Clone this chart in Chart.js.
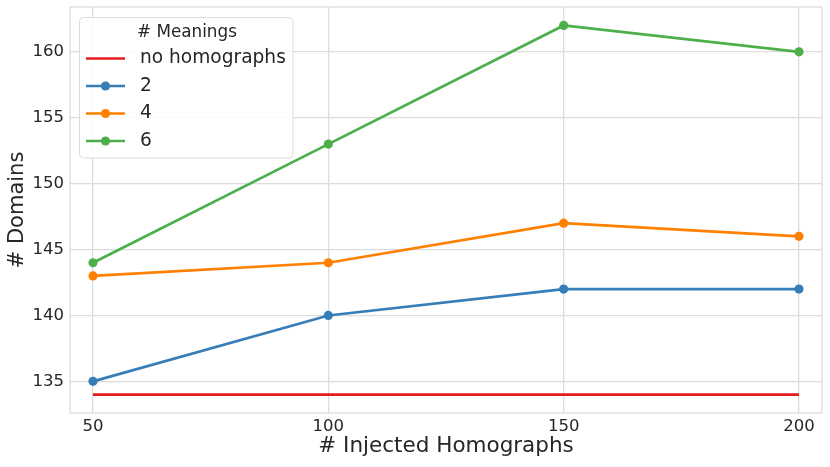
<!DOCTYPE html>
<html>
<head>
<meta charset="utf-8">
<script src="https://cdn.jsdelivr.net/npm/chart.js@4/dist/chart.umd.min.js"></script>
<style>
html,body{margin:0;padding:0;background:#fff;}
#wrap{width:830px;height:467px;}
</style>
</head>
<body>
<div id="wrap"><canvas id="c" width="830" height="467"></canvas></div>
<script>
const injected = [50, 100, 150, 200];
const noHomographs = [134, 134, 134, 134];
const meanings2 = [135, 140, 142, 142];
const meanings4 = [143, 144, 147, 146];
const meanings6 = [144, 153, 162, 160];
const xTicks = [50, 100, 150, 200];
const yTicks = [135, 140, 145, 150, 155, 160];
const legendTitle = '# Meanings';
const xTitle = '# Injected Homographs';
const yTitle = '# Domains';

const FONT = '"DejaVu Sans", sans-serif';
const TEXT = '#262626';
const GRID = '#dcdcdc';

const toPts = arr => injected.map((x, i) => ({x: x, y: arr[i]}));

function ds(label, arr, color, markers) {
  return {
    label: label,
    data: toPts(arr),
    borderColor: color,
    backgroundColor: color,
    borderWidth: 2.7,
    pointRadius: markers ? 4.6 : 0,
    pointHoverRadius: markers ? 4.6 : 0,
    pointBorderWidth: 0,
    pointBackgroundColor: color,
    tension: 0,
    fill: false,
    _markers: markers
  };
}

const datasets = [
  ds('no homographs', noHomographs, '#e41a1c', false),
  ds('2', meanings2, '#377eb8', true),
  ds('4', meanings4, '#ff7f00', true),
  ds('6', meanings6, '#4daf4a', true)
];

const framePlugin = {
  id: 'frame',
  beforeDatasetsDraw(chart) {
    const {ctx, chartArea: a} = chart;
    ctx.save();
    ctx.strokeStyle = GRID;
    ctx.lineWidth = 1.3;
    ctx.strokeRect(a.left, a.top, a.right - a.left, a.bottom - a.top);
    ctx.restore();
  }
};

const legendPlugin = {
  id: 'customLegend',
  afterDraw(chart) {
    const ctx = chart.ctx;
    const x0 = 79.5, y0 = 17.5, w = 213.5, h = 140.5, r = 4;
    ctx.save();
    ctx.beginPath();
    ctx.moveTo(x0 + r, y0);
    ctx.lineTo(x0 + w - r, y0);
    ctx.quadraticCurveTo(x0 + w, y0, x0 + w, y0 + r);
    ctx.lineTo(x0 + w, y0 + h - r);
    ctx.quadraticCurveTo(x0 + w, y0 + h, x0 + w - r, y0 + h);
    ctx.lineTo(x0 + r, y0 + h);
    ctx.quadraticCurveTo(x0, y0 + h, x0, y0 + h - r);
    ctx.lineTo(x0, y0 + r);
    ctx.quadraticCurveTo(x0, y0, x0 + r, y0);
    ctx.closePath();
    ctx.fillStyle = 'rgba(255,255,255,0.85)';
    ctx.fill();
    ctx.strokeStyle = '#dcdcdc';
    ctx.lineWidth = 1;
    ctx.stroke();

    ctx.fillStyle = TEXT;
    ctx.textBaseline = 'middle';
    ctx.textAlign = 'center';
    ctx.font = '16.8px ' + FONT;
    ctx.fillText(legendTitle, 187, 33);

    const rows = [58.5, 86, 113.5, 141];
    chart.data.datasets.forEach((d, i) => {
      const y = rows[i];
      ctx.strokeStyle = d.borderColor;
      ctx.lineWidth = 2.7;
      ctx.beginPath();
      ctx.moveTo(86, y);
      ctx.lineTo(125, y);
      ctx.stroke();
      if (d._markers) {
        ctx.fillStyle = d.borderColor;
        ctx.beginPath();
        ctx.arc(105.5, y, 4.6, 0, Math.PI * 2);
        ctx.fill();
      }
      ctx.fillStyle = TEXT;
      ctx.textAlign = 'left';
      ctx.font = '18.6px ' + FONT;
      ctx.fillText(d.label, 140, y);
    });
    ctx.restore();
  }
};

new Chart(document.getElementById('c'), {
  type: 'line',
  data: {datasets: datasets},
  options: {
    responsive: false,
    animation: false,
    devicePixelRatio: 1,
    layout: {padding: {top: 7, right: 8, left: 0, bottom: 0}},
    plugins: {legend: {display: false}, tooltip: {enabled: false}},
    scales: {
      x: {
        type: 'linear',
        min: 45.11,
        max: 204.89,
        afterBuildTicks: s => { s.ticks = xTicks.map(v => ({value: v})); },
        afterFit: s => { s.height = 54; s.paddingLeft = 0; s.paddingRight = 0; },
        grid: {color: GRID, lineWidth: 1.3, drawTicks: false},
        border: {display: false},
        ticks: {color: TEXT, font: {family: FONT, size: 16.5}, padding: 4, maxRotation: 0},
        title: {display: true, text: xTitle, color: TEXT, font: {family: FONT, size: 21.5}, padding: {top: 0, bottom: 8}}
      },
      y: {
        type: 'linear',
        min: 132.6,
        max: 163.4,
        afterBuildTicks: s => { s.ticks = yTicks.map(v => ({value: v})); },
        afterFit: s => { s.width = 70; s.paddingTop = 0; s.paddingBottom = 0; },
        grid: {color: GRID, lineWidth: 1.3, drawTicks: false},
        border: {display: false},
        ticks: {color: TEXT, font: {family: FONT, size: 16.5}, padding: 6},
        title: {display: true, text: yTitle, color: TEXT, font: {family: FONT, size: 21}, padding: {top: 5, bottom: 0}}
      }
    }
  },
  plugins: [framePlugin, legendPlugin]
});
</script>
</body>
</html>
